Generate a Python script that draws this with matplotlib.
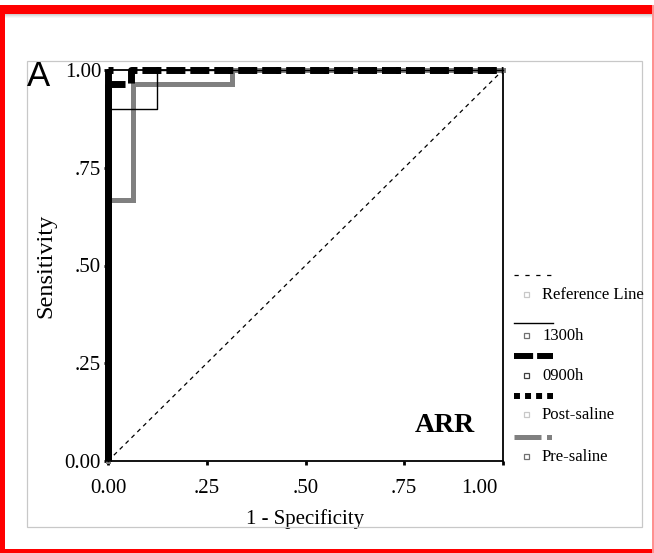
import matplotlib
matplotlib.use("Agg")
import matplotlib.pyplot as plt
from matplotlib.lines import Line2D
from matplotlib.patches import Rectangle
import matplotlib.transforms as mtransforms

# ROC curves (1 - specificity, sensitivity)
ref_x = [0.0, 1.0]
ref_y = [0.0, 1.0]
fpr_1300 = [0.0, 0.0, 0.125, 0.125, 1.0]
tpr_1300 = [0.0, 0.9, 0.9, 1.0, 1.0]
fpr_0900 = [0.0, 0.0, 0.059, 0.059, 1.0]
tpr_0900 = [0.0, 0.963, 0.963, 1.0, 1.0]
fpr_post = [0.0, 0.0, 1.0]
tpr_post = [0.0, 1.0, 1.0]
fpr_pre = [0.0, 0.0, 0.063, 0.063, 0.313, 0.313, 1.0]
tpr_pre = [0.0, 0.667, 0.667, 0.963, 0.963, 1.0, 1.0]

ticks = [0.0, 0.25, 0.5, 0.75, 1.0]
tick_labels = ["0.00", ".25", ".50", ".75", "1.00"]
legend_labels = ["Reference Line", "1300h", "0900h", "Post-saline", "Pre-saline"]

W, H = 654, 553
plt.rcParams["font.family"] = ["Liberation Serif", "DejaVu Serif"]
fig = plt.figure(figsize=(W / 100, H / 100), dpi=100)
fig.patch.set_facecolor("white")


def fx(px):
    return px / W


def fy(py):
    return 1 - py / H


# outer frame
red = "#ff0000"
for x0, y0, x1, y1, c in [(0, 5, 654, 14, red), (0, 5, 5, 553, red),
                          (0, 549, 654, 553, red), (652, 5, 654, 553, "#ff9090")]:
    fig.add_artist(Rectangle((fx(x0), fy(y1)), fx(x1 - x0), (y1 - y0) / H,
                             transform=fig.transFigure, color=c, lw=0, zorder=5))
# soft shadow under the top band
for i, a in enumerate([0.18, 0.12, 0.07, 0.03]):
    fig.add_artist(Rectangle((fx(5), fy(15 + i)), fx(647), 1 / H,
                             transform=fig.transFigure, color="black", alpha=a, lw=0))

# panel box
fig.add_artist(Rectangle((fx(27), fy(527)), fx(642 - 27), (527 - 61) / H,
                         transform=fig.transFigure, fill=False, ec="#c8c8c8", lw=0.9))

ax = fig.add_axes([fx(108), fy(461), fx(503 - 108), (461 - 70) / H])
ax.set_xlim(0, 1)
ax.set_ylim(0, 1)

# reference diagonal
ax.plot(ref_x, ref_y, color="black", lw=0.9, ls=(0, (3.4, 3.2)), zorder=2)
# pre-saline (grey)
ax.plot(fpr_pre, tpr_pre, color="#808080", lw=3.6, solid_joinstyle="miter",
        clip_on=False, zorder=3)
# 1300h (thin solid)
ax.plot(fpr_1300, tpr_1300, color="black", lw=1.0, clip_on=False, zorder=4)
# 0900h: solid rise along the axis, dashed afterwards
ax.plot(fpr_0900[:2], tpr_0900[:2], color="black", lw=5, solid_capstyle="butt",
        clip_on=False, zorder=4)
ax.plot(fpr_0900[1:], tpr_0900[1:], color="black", lw=5, ls=(0, (2.45, 1.0)),
        dash_capstyle="butt", solid_joinstyle="miter", clip_on=False, zorder=4)
# post-saline: solid rise, dotted top edge
ax.plot(fpr_post[:2], tpr_post[:2], color="black", lw=5, solid_capstyle="butt",
        clip_on=False, zorder=4)
ax.plot(fpr_post[1:], tpr_post[1:], color="black", lw=5, ls=(0, (0.72, 2.73)),
        dash_capstyle="butt", clip_on=False, zorder=4)

for s in ax.spines.values():
    s.set_linewidth(1.3)
    s.set_color("black")

ax.set_xticks(ticks)
ax.set_xticklabels(tick_labels)
ax.set_yticks(ticks)
ax.set_yticklabels(tick_labels)
ax.tick_params(axis="both", length=3, width=2, color="black", labelsize=15, pad=2)
ax.tick_params(axis="x", pad=10)
last = ax.get_xticklabels()[-1]
last.set_ha("right")
last.set_transform(last.get_transform() +
                   mtransforms.ScaledTranslation(-0.05, 0, fig.dpi_scale_trans))

ax.set_xlabel("1 - Specificity", fontsize=15, labelpad=8)
ax.set_ylabel("Sensitivity", fontsize=17.5, labelpad=6)
ax.text(0.853, 0.09, "ARR", fontsize=20, fontweight="bold", ha="center", va="center",
        transform=ax.transAxes)

fig.text(fx(27), fy(76), "A", fontsize=25, family=["Liberation Sans", "DejaVu Sans"],
         ha="left", va="center")

# legend: line sample above, small box and label below
styles = [
    dict(color="black", lw=0.9, ls=(0, (3.4, 5.3))),
    dict(color="black", lw=1.0, ls="-"),
    dict(color="black", lw=4.3, ls=(0, (3.2, 0.67)), dash_capstyle="butt"),
    dict(color="black", lw=4.3, ls=(0, (1.0, 0.85)), dash_capstyle="butt"),
    dict(color="#808080", lw=3.6, ls=(0, (5.4, 1.1, 1.0, 3.0)), dash_capstyle="butt"),
]
box_colors = ["#c8c8c8", "#707070", "#404040", "#c8c8c8", "#707070"]
line_y = [275, 323, 356, 396, 437]
text_y = [295, 336, 376, 415, 457]
for lab, st, bc, ly, ty in zip(legend_labels, styles, box_colors, line_y, text_y):
    fig.add_artist(Line2D([fx(514), fx(553)], [fy(ly), fy(ly)],
                          transform=fig.transFigure, **st))
    fig.add_artist(Rectangle((fx(524), fy(ty + 2)), fx(5), 5 / H,
                             transform=fig.transFigure, fill=False, ec=bc, lw=0.9))
    fig.text(fx(542), fy(ty), lab, fontsize=12, ha="left", va="center")

fig.savefig("out.png", dpi=100, facecolor="white")
